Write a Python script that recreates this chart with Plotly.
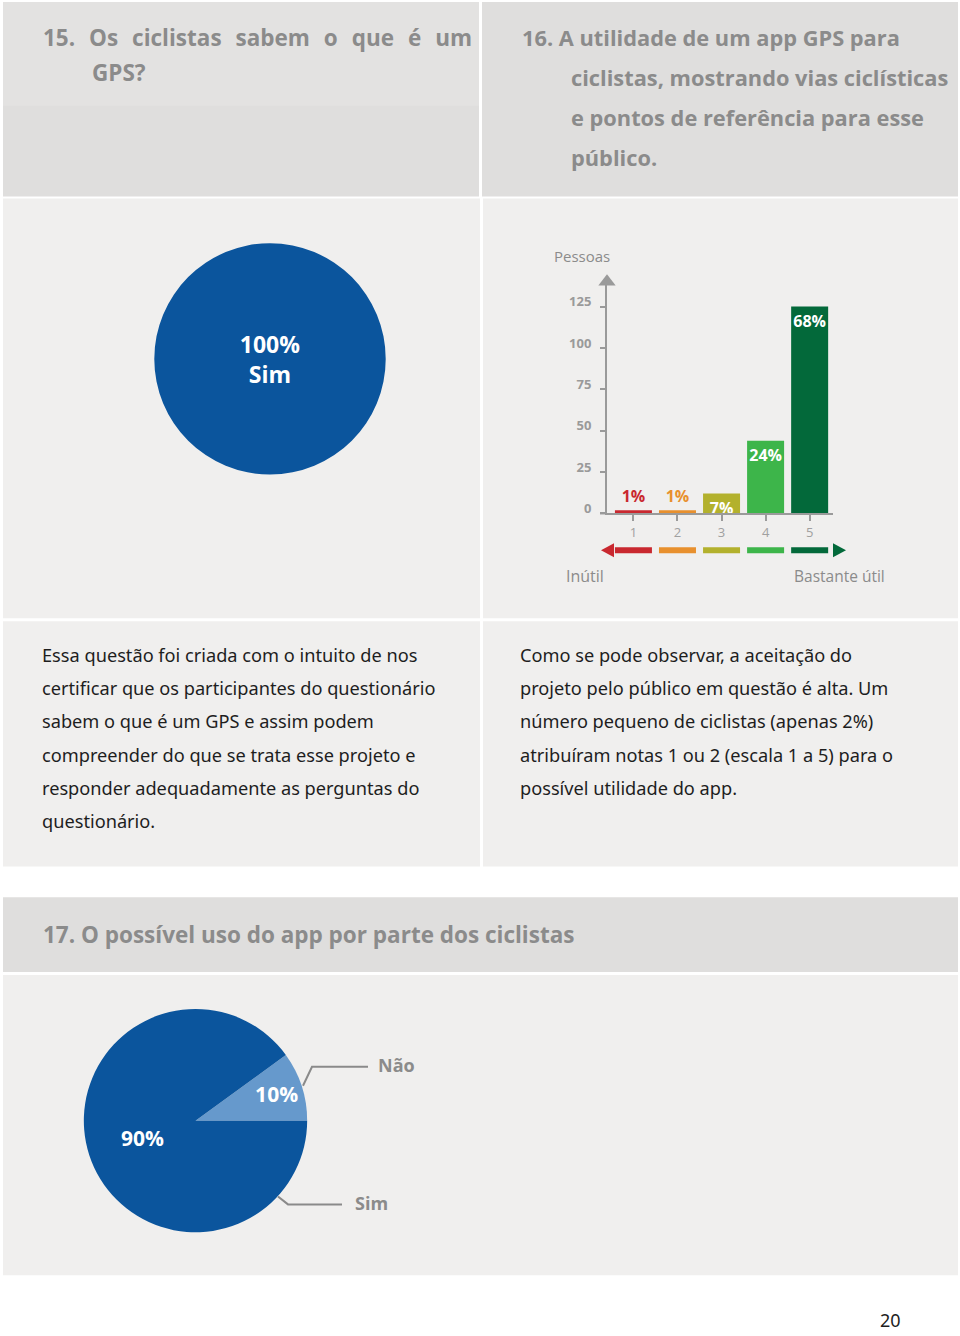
import plotly.graph_objects as go

W, H = 960, 1336

# ---------------- data ----------------
gps_labels = ["Sim"]
gps_values = [100]

util_scores = [1, 2, 3, 4, 5]
util_people = [2, 2, 12, 44, 125]
util_pct_text = ["1%", "1%", "7%", "24%", "68%"]
util_yticks = [0, 25, 50, 75, 100, 125]

uso_labels = ["Não", "Sim"]
uso_values = [10, 90]

# ---------------- styling ----------------
BLUE = "#0b559d"
LIGHT_BLUE = "#6699cc"
BAR_COLORS = ["#c9282f", "#e8902e", "#b3b12d", "#3db54a", "#03693a"]
PANEL = "#f0efee"
HEAD = "#dfdedd"
GREY_TXT = "#8b8b8b"
AX = "#9a9a9a"

def fx(px):
    return px / W

def fy(py):
    return 1 - py / H

fig = go.Figure()

shapes = []
def rect(x0, y0, x1, y1, color):
    shapes.append(dict(type="rect", xref="paper", yref="paper",
                       x0=fx(x0), x1=fx(x1), y0=fy(y1), y1=fy(y0),
                       fillcolor=color, line=dict(width=0), layer="below"))

# panels
rect(3, 2, 479, 197, HEAD)
rect(3, 2, 479, 106, "#e3e2e1")
rect(482, 2, 958, 197, HEAD)
rect(3, 199, 480, 620, PANEL)
rect(483, 199, 958, 620, PANEL)
rect(3, 623, 480, 869, PANEL)
rect(483, 623, 958, 869, PANEL)
rect(3, 900, 958, 975, HEAD)
rect(3, 978, 958, 1279, PANEL)

# ---------------- pie 1 ----------------
fig.add_trace(go.Pie(
    values=gps_values, labels=gps_labels, sort=False,
    marker=dict(colors=[BLUE], line=dict(width=0)),
    texttemplate="%{percent:.0%}<br>%{label}", textposition="inside",
    insidetextorientation="horizontal",
    textfont=dict(color="white", size=23, family="Open Sans", weight="bold"),
    domain=dict(x=[fx(152), fx(388)], y=[fy(476), fy(244)]),
    showlegend=False, hoverinfo="skip"))

# ---------------- pie 2 ----------------
fig.add_trace(go.Pie(
    values=uso_values, labels=uso_labels, sort=False,
    rotation=54, direction="clockwise",
    marker=dict(colors=[LIGHT_BLUE, BLUE], line=dict(width=0)),
    texttemplate="%{percent:.0%}", textposition="inside",
    insidetextorientation="horizontal",
    textfont=dict(color="white", size=21, family="Open Sans", weight="bold"),
    domain=dict(x=[fx(83), fx(308)], y=[fy(1236), fy(1012)]),
    showlegend=False, hoverinfo="skip"))

# ---------------- bar chart ----------------
fig.add_trace(go.Bar(
    x=util_scores, y=util_people, width=0.84,
    marker=dict(color=BAR_COLORS, line=dict(width=0)),
    text=util_pct_text, textangle=0,
    textposition=["outside", "outside", "inside", "inside", "inside"],
    insidetextanchor="end", constraintext="none",
    textfont=dict(color=["#c9282f", "#e8902e", "white", "white", "white"],
                  size=16, family="Open Sans", weight="bold"),
    cliponaxis=False, showlegend=False, hoverinfo="skip",
    xaxis="x", yaxis="y"))

# y axis arrow head
fig.add_trace(go.Scatter(
    x=[0.4], y=[140], mode="markers",
    marker=dict(symbol="triangle-up", size=15, color=AX),
    cliponaxis=False, showlegend=False, hoverinfo="skip"))

# colour scale arrow under the axis
ya0, ya1 = fy(555), fy(549)
for s, c in zip(util_scores, BAR_COLORS):
    shapes.append(dict(type="rect", xref="x", yref="paper",
                       x0=s - 0.42, x1=s + 0.42, y0=ya0, y1=ya1,
                       fillcolor=c, line=dict(width=0)))
ymid = fy(552)
ytop, ybot = fy(545), fy(559)
shapes.append(dict(type="path", xref="paper", yref="paper",
                   path=f"M {fx(601)},{ymid} L {fx(614)},{ytop} L {fx(614)},{ybot} Z",
                   fillcolor=BAR_COLORS[0], line=dict(width=0)))
shapes.append(dict(type="path", xref="paper", yref="paper",
                   path=f"M {fx(846)},{ymid} L {fx(833)},{ytop} L {fx(833)},{ybot} Z",
                   fillcolor=BAR_COLORS[-1], line=dict(width=0)))
# x axis line stub left of the y axis
shapes.append(dict(type="line", xref="paper", yref="paper",
                   x0=fx(600), x1=fx(607), y0=fy(515), y1=fy(515),
                   line=dict(color=AX, width=2)))

# pie 2 leader lines
def poly(pts):
    p = "M " + " L ".join(f"{fx(x)},{fy(y)}" for x, y in pts)
    shapes.append(dict(type="path", xref="paper", yref="paper", path=p,
                       line=dict(color="#8a8a8a", width=2)))
poly([(303, 1089), (312, 1070), (368, 1070)])
poly([(278, 1200), (288, 1208), (342, 1208)])

# ---------------- text ----------------
ann = []
def txt(x, y, s, size, color, family="Open Sans", weight="normal", anchor="left"):
    ann.append(dict(x=fx(x), y=fy(y), xref="paper", yref="paper", text=s,
                    showarrow=False, xanchor=anchor, yanchor="middle",
                    font=dict(size=size, color=color, family=family, weight=weight)))

HF = "Open Sans"
SP = "\u00a0\u00a0\u200a"
txt(41, 38, SP.join(["15.", "Os", "ciclistas", "sabem", "o", "que", "é", "um"]), 22.5, GREY_TXT, HF, "bold")
txt(90, 73, "GPS?", 22.5, GREY_TXT, HF, "bold")
txt(520, 38, "16. A utilidade de um app GPS para", 21.8, GREY_TXT, HF, "bold")
txt(569, 78, "ciclistas, mostrando vias ciclísticas", 21.8, GREY_TXT, HF, "bold")
txt(569, 118, "e pontos de referência para esse", 21.8, GREY_TXT, HF, "bold")
txt(569, 158, "público.", 21.8, GREY_TXT, HF, "bold")

txt(41, 937, "17. O possível uso do app por parte dos ciclistas", 22.5, GREY_TXT, "Open Sans", "bold")

left_lines = ["Essa questão foi criada com o intuito de nos",
              "certificar que os participantes do questionário",
              "sabem o que é um GPS e assim podem",
              "compreender do que se trata esse projeto e",
              "responder adequadamente as perguntas do",
              "questionário."]
right_lines = ["Como se pode observar, a aceitação do",
               "projeto pelo público em questão é alta. Um",
               "número pequeno de ciclistas (apenas 2%)",
               "atribuíram notas 1 ou 2 (escala 1 a 5) para o",
               "possível utilidade do app."]
for i, s in enumerate(left_lines):
    txt(40, 657 + 33.3 * i, s, 18.2, "#1e1e1e", "Noto Sans")
for i, s in enumerate(right_lines):
    txt(518, 657 + 33.3 * i, s, 18.2, "#1e1e1e", "Noto Sans")

txt(582, 257, "Pessoas", 15, GREY_TXT, HF, anchor="center")
txt(585, 578, "Inútil", 16, GREY_TXT, HF, anchor="center")
txt(839, 578, "Bastante útil", 15.5, GREY_TXT, HF, anchor="center")

txt(396, 1068, "Não", 18, GREY_TXT, "Open Sans", "bold", anchor="center")
txt(371, 1207, "Sim", 18, GREY_TXT, "Open Sans", "bold", anchor="center")

txt(890, 1324, "20", 18, "#1e1e1e", "Noto Sans", anchor="center")

fig.update_layout(
    width=W, height=H, margin=dict(l=0, r=0, t=0, b=0),
    paper_bgcolor="white", plot_bgcolor="rgba(0,0,0,0)",
    shapes=shapes, annotations=ann, bargap=0.16,
    xaxis=dict(domain=[fx(607), fx(833)], range=[0.4, 5.53],
               tickvals=util_scores, ticktext=[str(s) for s in util_scores],
               showline=True, linecolor=AX, linewidth=2,
               ticks="outside", ticklen=6, tickcolor=AX, tickwidth=1.5,
               tickfont=dict(size=13, color="#a0a0a0", family="Open Sans"),
               showgrid=False, zeroline=False, fixedrange=True),
    yaxis=dict(domain=[fy(515), fy(282.6)], range=[0, 140],
               tickvals=util_yticks,
               showline=True, linecolor=AX, linewidth=2,
               ticks="outside", ticklen=5, tickcolor=AX, tickwidth=1.5,
               ticklabelshift=-5, ticklabelstandoff=6,
               tickfont=dict(size=13, color="#9a9a9a", family="Open Sans", weight="bold"),
               showgrid=False, zeroline=False, fixedrange=True),
)

css_js = (
    "var d=document.documentElement,b=document.body;"
    "d.style.margin='0';d.style.padding='0';d.style.overflow='hidden';"
    "b.style.margin='0';b.style.padding='0';b.style.overflow='hidden';"
    "b.style.lineHeight='0';b.style.fontSize='0';"
    "b.style.height='1336px';d.style.height='1336px';"
)
fig.write_html("out.html", config={"displayModeBar": False}, post_script=css_js)
